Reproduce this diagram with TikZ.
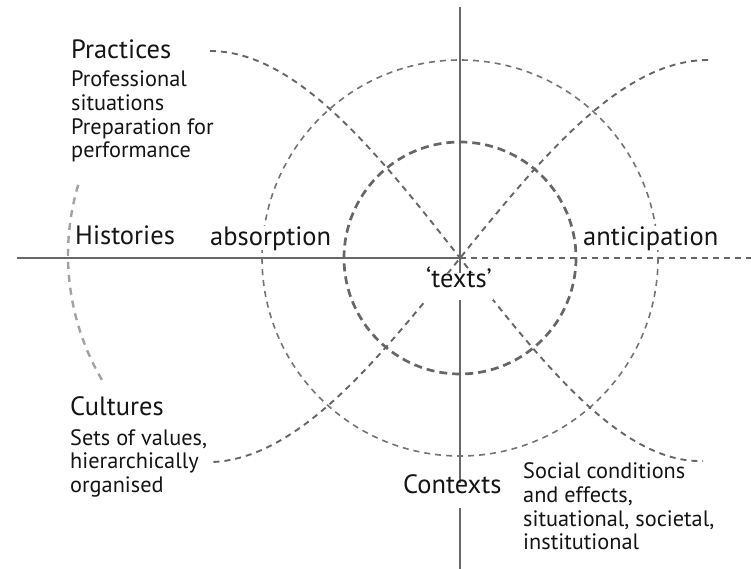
\documentclass[tikz,border=0pt]{standalone}
\usepackage{fontspec}
\setmainfont{PT Sans}
\definecolor{axisgray}{HTML}{686868}
\definecolor{dashgray}{HTML}{666666}
\definecolor{ringgray}{HTML}{747474}
\definecolor{palegray}{HTML}{A2A2A2}
\definecolor{ink}{HTML}{151515}
\begin{document}
\begin{tikzpicture}[x=1pt,y=-1pt,
  axis/.style={draw=axisgray, line width=2.6pt},
  innerring/.style={draw=dashgray, line width=2.7pt, dash pattern=on 8pt off 5pt},
  outerring/.style={draw=ringgray, line width=1.6pt, dash pattern=on 6pt off 5pt},
  flow/.style={draw=dashgray, line width=1.9pt, dash pattern=on 6pt off 5pt},
  faint/.style={draw=palegray, line width=2.4pt, dash pattern=on 7pt off 6pt},
  head/.style={font=\fontsize{26.5}{30}\selectfont, text=ink, anchor=base west,
    inner sep=0pt, fill=white},
  sub/.style={font=\fontsize{22.3}{26}\selectfont, text=ink, anchor=base west,
    inner sep=0pt},
]
\useasboundingbox[fill=white] (0,0) rectangle (751,569);

% axes
\coordinate (O) at (460,258);
\coordinate (vtop) at (460,7);
\coordinate (vbot) at (460,569);
\coordinate (hleft) at (17,258);
\coordinate (hright) at (751,258);
\draw[axis] (vtop) -- (vbot);
\draw[axis] (hleft) -- (O);
\draw[flow] (O) -- (hright);

% concentric rings
\draw[outerring] (O) circle[radius=198];
\draw[innerring] (O) circle[radius=116];

% crossing flows through the centre
\coordinate (p0) at (210,51);
\coordinate (p3) at (703,461);
\draw[flow] (p0) .. controls (384,51) and (538,466) .. (p3);
\coordinate (q0) at (708,60);
\coordinate (q3) at (213,462);
\draw[flow] (q0) .. controls (534,60) and (386,454) .. (q3);

% histories arc on the left
\coordinate (hc) at (315,255);
\draw[faint] (hc) ++(196.5:247) arc[start angle=196.5, end angle=149.6, radius=247];

% labels: practices
\node[head] (practices) at (71,59) {Practices};
\node[sub] (prof1) at (71,87) {Professional};
\node[sub] (prof2) at (71,110.5) {situations};
\node[sub] (prep1) at (71,135) {Preparation for};
\node[sub] (prep2) at (71,158) {performance};
% histories and the two directions
\node[head] (histories) at (75,244) {Histories};
\node[head] (absorption) at (210,245) {absorption};
\node[head] (anticipation) at (583,245) {anticipation};
\node[head, text height=14pt, text depth=13pt, inner xsep=1pt] (texts) at (425,287) {‘texts’};
% cultures
\node[head] (cultures) at (70,415) {Cultures};
\node[sub] (cult1) at (70,445) {Sets of values,};
\node[sub] (cult2) at (70,468.5) {hierarchically};
\node[sub] (cult3) at (70,492) {organised};
% contexts
\node[head, text height=10pt, text depth=15pt, inner xsep=1pt] (contexts) at (402,493) {Contexts};
\node[sub] (ctx1) at (523,478) {Social conditions};
\node[sub] (ctx2) at (523,502) {and effects,};
\node[sub] (ctx3) at (523,526) {situational, societal,};
\node[sub] (ctx4) at (523,549.5) {institutional};
\end{tikzpicture}
\end{document}
